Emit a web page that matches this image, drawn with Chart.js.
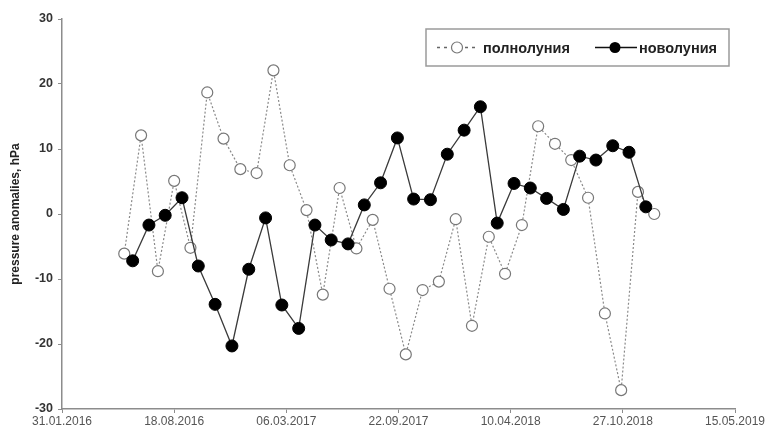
<!DOCTYPE html>
<html>
<head>
<meta charset="utf-8">
<script src="https://cdn.jsdelivr.net/npm/chart.js@4"></script>
<style>
  html, body { margin: 0; padding: 0; background: #fff; }
  #wrap { width: 765px; height: 428px; }
</style>
</head>
<body>
<div id="wrap"><canvas id="moonChart" width="765" height="428"></canvas></div>
<script>
// Pressure anomalies at full moon / new moon, 2016-2018
const fullMoonDates = [
  '21.05.2016', '20.06.2016', '20.07.2016', '18.08.2016', '16.09.2016', '16.10.2016', '14.11.2016', '14.12.2016',
  '12.01.2017', '11.02.2017', '12.03.2017', '11.04.2017', '10.05.2017', '09.06.2017', '09.07.2017', '07.08.2017',
  '06.09.2017', '05.10.2017', '04.11.2017', '03.12.2017',
  '02.01.2018', '31.01.2018', '02.03.2018', '31.03.2018', '30.04.2018', '29.05.2018', '28.06.2018', '27.07.2018',
  '26.08.2018', '25.09.2018', '24.10.2018', '23.11.2018', '22.12.2018'
];
const fullMoonValues = [
  -6.1, 12.1, -8.8, 5.1, -5.2, 18.7, 11.6, 6.9,
  6.3, 22.1, 7.5, 0.6, -12.4, 4.0, -5.3, -0.9,
  -11.5, -21.6, -11.7, -10.4,
  -0.8, -17.2, -3.5, -9.2, -1.7, 13.5, 10.8, 8.3,
  2.5, -15.3, -27.1, 3.4, 0.0
];
const newMoonDates = [
  '05.06.2016', '04.07.2016', '02.08.2016', '01.09.2016', '30.09.2016', '30.10.2016', '29.11.2016', '29.12.2016',
  '28.01.2017', '26.02.2017', '28.03.2017', '26.04.2017', '25.05.2017', '24.06.2017', '23.07.2017', '21.08.2017',
  '20.09.2017', '19.10.2017', '18.11.2017', '18.12.2017',
  '17.01.2018', '15.02.2018', '17.03.2018', '16.04.2018', '15.05.2018', '13.06.2018', '13.07.2018', '11.08.2018',
  '09.09.2018', '09.10.2018', '07.11.2018', '07.12.2018'
];
const newMoonValues = [
  -7.2, -1.7, -0.2, 2.5, -8.0, -13.9, -20.3, -8.5,
  -0.6, -14.0, -17.6, -1.7, -4.0, -4.6, 1.4, 4.8,
  11.7, 2.3, 2.2, 9.2,
  12.9, 16.5, -1.4, 4.7, 4.0, 2.4, 0.7, 8.9,
  8.3, 10.5, 9.5, 1.1
];
const xTickLabels = ['31.01.2016', '18.08.2016', '06.03.2017', '22.09.2017', '10.04.2018', '27.10.2018', '15.05.2019'];
const yTicks = [-30, -20, -10, 0, 10, 20, 30];
const seriesNames = ['полнолуния', 'новолуния'];

// days since the first tick date
const origin = Date.UTC(2016, 0, 31);
function dayOf(str) {
  const [d, m, y] = str.split('.').map(Number);
  return (Date.UTC(y, m - 1, d) - origin) / 86400000;
}
function labelOf(day) {
  const dt = new Date(origin + day * 86400000);
  const pad = n => String(n).padStart(2, '0');
  return pad(dt.getUTCDate()) + '.' + pad(dt.getUTCMonth() + 1) + '.' + dt.getUTCFullYear();
}

const AXIS_GRAY = '#8c8c8c';
const FONT = '"Liberation Sans", Arial, sans-serif';

// Legend in a box, drawn by hand (line + marker samples)
const boxLegendPlugin = {
  id: 'boxLegendPlugin',
  afterDraw(chart) {
    const { ctx } = chart;
    const x0 = 426, y0 = 29, w = 303, h = 37;
    const cy = y0 + h / 2;
    ctx.save();
    ctx.strokeStyle = '#9a9a9a';
    ctx.lineWidth = 1.5;
    ctx.strokeRect(x0, y0, w, h);

    // full moon sample
    ctx.beginPath();
    ctx.setLineDash([3, 4]);
    ctx.strokeStyle = '#666';
    ctx.lineWidth = 1.4;
    ctx.moveTo(437, cy);
    ctx.lineTo(477, cy);
    ctx.stroke();
    ctx.setLineDash([]);
    ctx.beginPath();
    ctx.arc(457, cy, 5.5, 0, Math.PI * 2);
    ctx.fillStyle = '#fff';
    ctx.fill();
    ctx.strokeStyle = '#777';
    ctx.lineWidth = 1.2;
    ctx.stroke();

    // new moon sample
    ctx.beginPath();
    ctx.strokeStyle = '#111';
    ctx.lineWidth = 1.5;
    ctx.moveTo(595, cy);
    ctx.lineTo(637, cy);
    ctx.stroke();
    ctx.beginPath();
    ctx.arc(615, cy, 5.5, 0, Math.PI * 2);
    ctx.fillStyle = '#000';
    ctx.fill();

    ctx.fillStyle = '#222';
    ctx.font = 'bold 14.5px ' + FONT;
    ctx.textAlign = 'left';
    ctx.textBaseline = 'middle';
    ctx.fillText(seriesNames[0], 483, cy + 1);
    ctx.fillText(seriesNames[1], 639, cy + 1);
    ctx.restore();
  }
};

const ctx = document.getElementById('moonChart').getContext('2d');

new Chart(ctx, {
  type: 'line',
  data: {
    datasets: [
      {
        label: seriesNames[0],
        data: fullMoonDates.map((d, i) => ({ x: dayOf(d), y: fullMoonValues[i] })),
        borderColor: '#8a8a8a',
        borderWidth: 1.2,
        borderDash: [2, 2],
        pointRadius: 5.5,
        pointBackgroundColor: '#fff',
        pointBorderColor: '#777',
        pointBorderWidth: 1.2,
        tension: 0,
        order: 1
      },
      {
        label: seriesNames[1],
        data: newMoonDates.map((d, i) => ({ x: dayOf(d), y: newMoonValues[i] })),
        borderColor: '#3a3a3a',
        borderWidth: 1.3,
        pointRadius: 6,
        pointBackgroundColor: '#000',
        pointBorderColor: '#000',
        pointBorderWidth: 1,
        tension: 0,
        order: 0
      }
    ]
  },
  options: {
    responsive: false,
    animation: false,
    layout: { padding: { top: 19, right: 30, bottom: 0, left: 8 } },
    plugins: {
      legend: { display: false },
      tooltip: { enabled: false }
    },
    scales: {
      x: {
        type: 'linear',
        min: dayOf(xTickLabels[0]),
        max: dayOf(xTickLabels[xTickLabels.length - 1]),
        afterBuildTicks: scale => {
          scale.ticks = xTickLabels.map(s => ({ value: dayOf(s) }));
        },
        afterFit: scale => {
          scale.height = 19;
          scale.paddingLeft = 0;
          scale.paddingRight = 0;
        },
        border: { display: true, color: AXIS_GRAY, width: 1.5 },
        grid: { display: true, drawOnChartArea: false, drawTicks: true, tickLength: 4, color: AXIS_GRAY },
        ticks: {
          maxRotation: 0,
          autoSkip: false,
          padding: 1,
          color: '#555',
          font: { family: FONT, size: 12 },
          callback: v => labelOf(v)
        }
      },
      y: {
        min: -30,
        max: 30,
        afterBuildTicks: scale => {
          scale.ticks = yTicks.map(v => ({ value: v }));
        },
        afterFit: scale => { scale.width = 54; },
        border: { display: true, color: AXIS_GRAY, width: 1.5 },
        grid: { display: true, drawOnChartArea: false, drawTicks: true, tickLength: 4, color: AXIS_GRAY },
        ticks: {
          padding: 5,
          color: '#333',
          font: { family: FONT, size: 12.5, weight: 'bold' }
        },
        title: {
          display: true,
          text: 'pressure anomalies, hPa',
          color: '#222',
          padding: { top: 0, bottom: 4 },
          font: { family: FONT, size: 12, weight: 'bold' }
        }
      }
    }
  },
  plugins: [boxLegendPlugin]
});
</script>
</body>
</html>
